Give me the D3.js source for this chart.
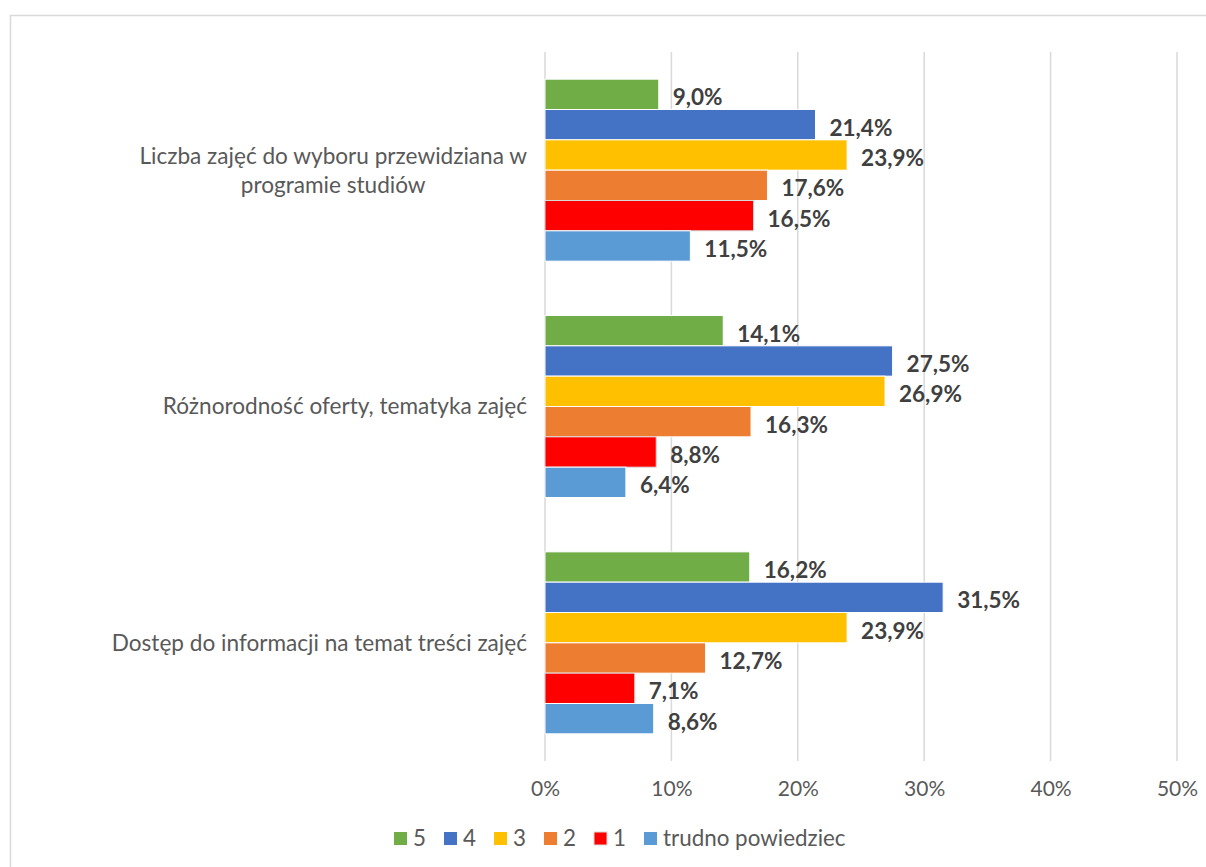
<!DOCTYPE html>
<html><head><meta charset="utf-8">
<script src="https://cdn.jsdelivr.net/npm/d3@7"></script>
<style>body{margin:0;background:#fff}svg{display:block}</style>
</head><body>
<script>
const categories = [
  ["Liczba zajęć do wyboru przewidziana w", "programie studiów"],
  ["Różnorodność oferty, tematyka zajęć"],
  ["Dostęp do informacji na temat treści zajęć"]
];
const seriesNames = ["5", "4", "3", "2", "1", "trudno powiedziec"];
const seriesColors = ["#70AD47", "#4472C4", "#FFC000", "#ED7D31", "#FF0000", "#5B9BD5"];
const values5 = [9.0, 14.1, 16.2];
const values4 = [21.4, 27.5, 31.5];
const values3 = [23.9, 26.9, 23.9];
const values2 = [17.6, 16.3, 12.7];
const values1 = [16.5, 8.8, 7.1];
const valuesTrudno = [11.5, 6.4, 8.6];
const xTicks = [0, 10, 20, 30, 40, 50];

const seriesValues = [values5, values4, values3, values2, values1, valuesTrudno];
const W = 1206, H = 867;
const font = "Lato, sans-serif";
const svg = d3.select("body").append("svg").attr("width", W).attr("height", H);

svg.append("rect").attr("x", 10.5).attr("y", 15.5).attr("width", W).attr("height", H)
  .attr("fill", "#fff").attr("stroke", "#d9d9d9").attr("stroke-width", 1.5);

const x = d3.scaleLinear().domain([0, 50]).range([545, 1177]);
const catIdx = categories.map((d, i) => i);
const y = d3.scaleBand().domain(catIdx).range([52, 761]).paddingInner(0.23).paddingOuter(0.115);
const ys = d3.scaleBand().domain(d3.range(seriesNames.length)).range([0, y.bandwidth()]);

// gridlines
svg.append("g").selectAll("line").data(xTicks).join("line")
  .attr("x1", d => x(d)).attr("x2", d => x(d)).attr("y1", 52).attr("y2", 761)
  .attr("stroke", "#d9d9d9").attr("stroke-width", 1.5);

// axis labels
const xAxis = d3.axisBottom(x).tickValues(xTicks).tickFormat(d => d + "%").tickSize(0).tickPadding(0);
const gx = svg.append("g").attr("transform", "translate(0,781)").call(xAxis);
gx.select(".domain").remove();
gx.selectAll("text").attr("font-family", font).attr("font-size", 21).attr("fill", "#595959").attr("dy", "0.71em");

// bars
const g = svg.append("g");
seriesValues.forEach((vals, si) => {
  g.append("g").selectAll("rect").data(vals).join("rect")
    .attr("x", x(0)).attr("y", (d, ci) => y(ci) + ys(si))
    .attr("width", d => x(d) - x(0)).attr("height", ys.bandwidth())
    .attr("fill", seriesColors[si])
    .attr("stroke", si === 4 ? "#d9d9d9" : "#ffffff").attr("stroke-width", 1);
  g.append("g").selectAll("text").data(vals).join("text")
    .attr("x", d => x(d) + 14).attr("y", (d, ci) => y(ci) + ys(si) + ys.bandwidth() / 2 + 3)
    .attr("dy", "0.35em")
    .attr("font-family", font).attr("font-size", 22.5).attr("font-weight", "bold").attr("fill", "#404040")
    .text(d => d.toFixed(1).replace(".", ",") + "%");
});

// category labels
categories.forEach((lines, ci) => {
  const cy = y(ci) + y.bandwidth() / 2;
  const lh = 29;
  const tg = svg.append("g");
  const texts = lines.map((t, li) => tg.append("text")
    .attr("font-family", font).attr("font-size", 22.6).attr("fill", "#595959")
    .attr("text-anchor", "middle")
    .attr("y", cy + (li - (lines.length - 1) / 2) * lh).attr("dy", "0.35em").text(t));
  const wmax = d3.max(texts, t => t.node().getComputedTextLength());
  texts.forEach(t => t.attr("x", 527 - wmax / 2));
});

// legend
const legendX = [394, 444, 494, 544, 594, 644];
const lg = svg.append("g");
seriesNames.forEach((n, i) => {
  lg.append("rect").attr("x", legendX[i]).attr("y", 832).attr("width", 13).attr("height", 13)
    .attr("fill", seriesColors[i]).attr("stroke", i === 4 ? "#d9d9d9" : "none");
  lg.append("text").attr("x", legendX[i] + 19).attr("y", 838.5).attr("dy", "0.35em")
    .attr("font-family", font).attr("font-size", 22.4).attr("fill", "#595959").text(n);
});
</script>
</body></html>
